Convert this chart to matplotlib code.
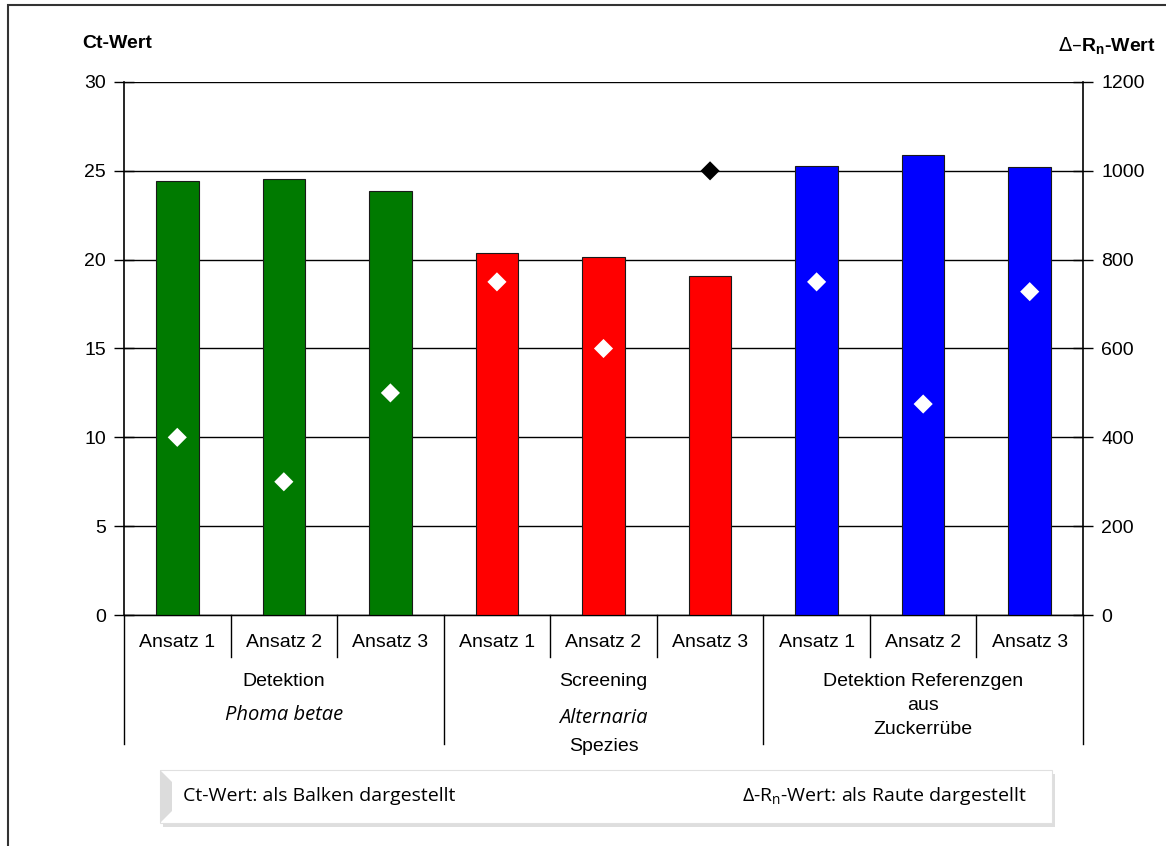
import numpy as np
import matplotlib.pyplot as plt
from matplotlib.patches import Rectangle, Polygon

# Ct-Werte (Balken) und Delta-Rn-Werte (Rauten)
ansatz = ['Ansatz 1', 'Ansatz 2', 'Ansatz 3'] * 3
ct_werte = [24.4, 24.55, 23.85, 20.35, 20.15, 19.1, 25.3, 25.9, 25.2]
rn_werte = [400, 300, 500, 750, 600, 1000, 750, 475, 728]
balken_farben = ['#007A00'] * 3 + ['#FF0000'] * 3 + ['#0000FF'] * 3
rauten_farben = ['white'] * 5 + ['black'] + ['white'] * 3
gruppen = [
    [('Detektion', 'normal'), ('Phoma betae', 'italic')],
    [('Screening', 'normal'), ('Alternaria', 'italic'), ('Spezies', 'normal')],
    [('Detektion Referenzgen', 'normal'), ('aus', 'normal'), ('Zuckerrübe', 'normal')],
]

plt.rcParams['font.family'] = ['Liberation Sans', 'DejaVu Sans']
FS = 14

fig = plt.figure(figsize=(11.66, 8.46), dpi=100)
W, H = 1166, 846

def fx(px):
    return px / W

def fy(py):
    return 1 - py / H

ax = fig.add_axes([fx(124), fy(615), fx(1083) - fx(124), fy(82) - fy(615)])
ax2 = ax.twinx()

x = np.arange(len(ct_werte))
ax.bar(x, ct_werte, width=0.4, color=balken_farben, edgecolor='#1a1a1a', linewidth=0.8, zorder=3)
ax.set_xlim(-0.5, len(ct_werte) - 0.5)
ax.set_ylim(0, 30)
ax.set_yticks(range(0, 31, 5))
ax.yaxis.grid(True, color='black', linewidth=1.0, zorder=0)
ax.set_axisbelow(True)
ax.set_xticks([])

ax2.scatter(x, rn_werte, marker='D', s=95, c=rauten_farben, edgecolors='none', zorder=5)
ax2.set_ylim(0, 1200)
ax2.set_yticks(range(0, 1201, 200))

for a in (ax, ax2):
    a.spines['top'].set_visible(False)
    a.tick_params(axis='y', direction='inout', length=14, width=1, labelsize=FS, pad=6)
ax.spines['right'].set_visible(False)
ax2.spines['left'].set_visible(False)
ax.spines['bottom'].set_linewidth(1.0)
ax.spines['left'].set_linewidth(1.2)
ax2.spines['right'].set_linewidth(1.2)
ax2.set_zorder(ax.get_zorder() + 1)
ax2.patch.set_visible(False)

# Achsentitel
fig.text(fx(82), fy(43), 'Ct-Wert', fontsize=FS, fontweight='bold', va='center', ha='left')
fig.text(fx(1156), fy(46), r'$\Delta$–R$_\mathregular{n}$-Wert', fontsize=FS, fontweight='bold',
         va='center', ha='right')

# Kategorien-Beschriftung unter der Achse
trans = ax.get_xaxis_transform()
y_kat = (615 - 642) / (615 - 82)
y_tick_end = (615 - 657) / (615 - 82)
y_grp_end = (615 - 744) / (615 - 82)
for i, lab in enumerate(ansatz):
    ax.text(i, y_kat, lab, transform=trans, ha='center', va='center', fontsize=FS, clip_on=False)
for i in range(len(ansatz) + 1):
    pos = i - 0.5
    ende = y_grp_end if i % 3 == 0 else y_tick_end
    ax.plot([pos, pos], [0, ende], transform=trans, color='black', linewidth=1.0, clip_on=False)

zeilen_y = [[681, 715], [681, 718, 746], [681, 705, 729]]
for g, (zeilen, ys) in enumerate(zip(gruppen, zeilen_y)):
    mitte = g * 3 + 1
    for (txt, stil), py in zip(zeilen, ys):
        if stil == 'italic':
            ax.text(mitte, (615 - py) / (615 - 82), txt, transform=trans, ha='center', va='center',
                    fontsize=FS + 0.5, style='italic', family=['Open Sans', 'DejaVu Sans'], clip_on=False)
        else:
            ax.text(mitte, (615 - py) / (615 - 82), txt, transform=trans, ha='center', va='center',
                    fontsize=FS, clip_on=False)

# Legendenkasten mit Schatten
x0, x1, y0, y1 = 160, 1052, 770, 823
fig.patches.append(Rectangle((fx(x0 + 3), fy(y1 + 4)), fx(x1 - x0), fy(y0) - fy(y1),
                             transform=fig.transFigure, facecolor='#c8c8c8', edgecolor='none',
                             alpha=0.6, zorder=1))
fig.patches.append(Rectangle((fx(x0), fy(y1)), fx(x1 - x0), fy(y0) - fy(y1),
                             transform=fig.transFigure, facecolor='white', edgecolor='#e0e0e0',
                             linewidth=0.8, zorder=2))
fig.patches.append(Polygon([(fx(x0), fy(y0)), (fx(x0 + 12), fy(y0 + 12)), (fx(x0 + 12), fy(y1 - 12)),
                            (fx(x0), fy(y1))], closed=True, transform=fig.transFigure,
                           facecolor='#dcdcdc', edgecolor='none', zorder=3))
fig.text(fx(183), fy(796), 'Ct-Wert: als Balken dargestellt', fontsize=14,
         family=['Open Sans', 'DejaVu Sans'], va='center', ha='left', zorder=4)
fig.text(fx(1027), fy(796), r'Δ-R$_\mathregular{n}$-Wert: als Raute dargestellt', fontsize=14,
         family=['Open Sans', 'DejaVu Sans'], va='center', ha='right', zorder=4)

# Rahmen um die Grafik
fig.patches.append(Rectangle((fx(8), -0.01), 1.1, fy(5) + 0.01, transform=fig.transFigure,
                             facecolor='none', edgecolor='#333333', linewidth=1.5, zorder=0))

fig.savefig('out.png', dpi=100)
